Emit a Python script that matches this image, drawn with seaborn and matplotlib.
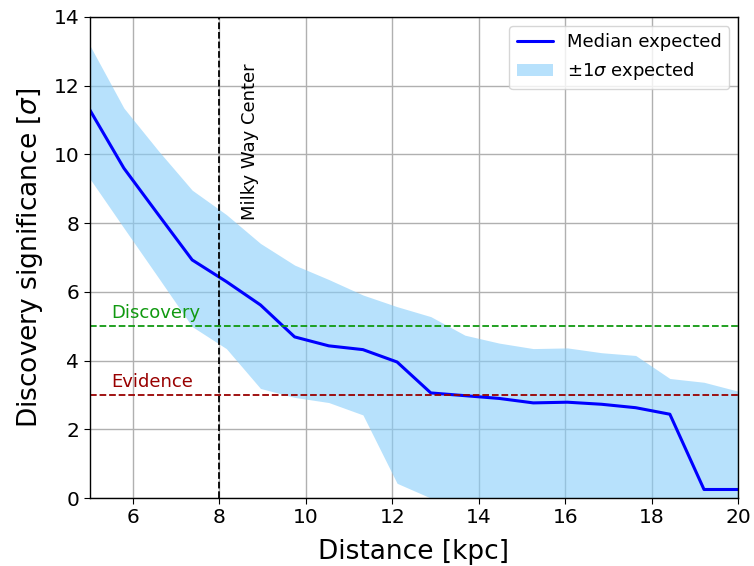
import numpy as np
import pandas as pd
import matplotlib
matplotlib.use("Agg")
import matplotlib.pyplot as plt
import seaborn as sns

# Source distance grid [kpc]
distance = [5.00, 5.79, 6.58, 7.37, 8.16, 8.95, 9.74, 10.53, 11.32, 12.11,
            12.89, 13.68, 14.47, 15.26, 16.05, 16.84, 17.63, 18.42, 19.21, 20.00]

# Expected discovery significance [sigma]
median_sig = [11.30, 9.60, 8.26, 6.93, 6.30, 5.62, 4.69, 4.43, 4.32, 3.96,
              3.06, 2.98, 2.90, 2.77, 2.79, 2.73, 2.63, 2.44, 0.25, 0.25]
upper_sig = [13.18, 11.35, 10.12, 8.96, 8.25, 7.41, 6.78, 6.36, 5.91, 5.57,
             5.28, 4.74, 4.51, 4.35, 4.37, 4.23, 4.15, 3.48, 3.37, 3.11]
lower_sig = [9.30, 7.86, 6.43, 4.99, 4.35, 3.19, 2.93, 2.78, 2.42, 0.43,
             0.00, 0.00, 0.00, 0.00, 0.00, 0.00, 0.00, 0.00, 0.00, 0.00]

galactic_center = 8.0
discovery_level = 5.0
evidence_level = 3.0

df = pd.DataFrame({"distance": distance, "median": median_sig,
                   "upper": upper_sig, "lower": lower_sig})

sns.set_style("ticks")
plt.rcParams["font.family"] = ["DejaVu Sans"]
plt.rcParams["text.color"] = "black"
plt.rcParams["axes.labelcolor"] = "black"
plt.rcParams["xtick.color"] = "black"
plt.rcParams["ytick.color"] = "black"

fig = plt.figure(figsize=(7.54, 5.66), dpi=100)
ax = fig.add_axes([0.119, 0.120, 0.860, 0.850])

ax.fill_between(df["distance"], df["lower"], df["upper"],
                color="lightskyblue", alpha=0.6, linewidth=0,
                label=r"$\pm1\sigma$ expected")
sns.lineplot(data=df, x="distance", y="median", color="blue", linewidth=2.2,
             label="Median expected", ax=ax)

ax.axvline(galactic_center, color="black", linestyle="--", linewidth=1.3)
ax.text(galactic_center + 0.5, 8.1, "Milky Way Center", rotation=90,
        fontsize=13, ha="left", va="bottom")

ax.axhline(discovery_level, color="#109910", linestyle="--", linewidth=1.3)
ax.text(5.5, discovery_level + 0.12, "Discovery", color="#109910",
        fontsize=13, va="bottom")
ax.axhline(evidence_level, color="#990000", linestyle="--", linewidth=1.3)
ax.text(5.5, evidence_level + 0.12, "Evidence", color="#990000",
        fontsize=13, va="bottom")

ax.set_xlim(5, 20)
ax.set_ylim(0, 14)
ax.set_xticks(np.arange(6, 21, 2))
ax.set_yticks(np.arange(0, 15, 2))
ax.grid(True, color="#b0b0b0", linewidth=1.0)
ax.set_axisbelow(True)
for s in ax.spines.values():
    s.set_color("black")
    s.set_linewidth(1.0)
ax.tick_params(labelsize=14.5, length=4)

ax.set_xlabel("Distance [kpc]", fontsize=19, labelpad=8)
ax.set_ylabel(r"Discovery significance [$\sigma$]", fontsize=19, labelpad=6)

handles, labels = ax.get_legend_handles_labels()
order = [labels.index("Median expected"), labels.index(r"$\pm1\sigma$ expected")]
ax.legend([handles[i] for i in order], [labels[i] for i in order],
          loc="upper right", fontsize=13, frameon=True)

fig.savefig("out.png", dpi=100)
